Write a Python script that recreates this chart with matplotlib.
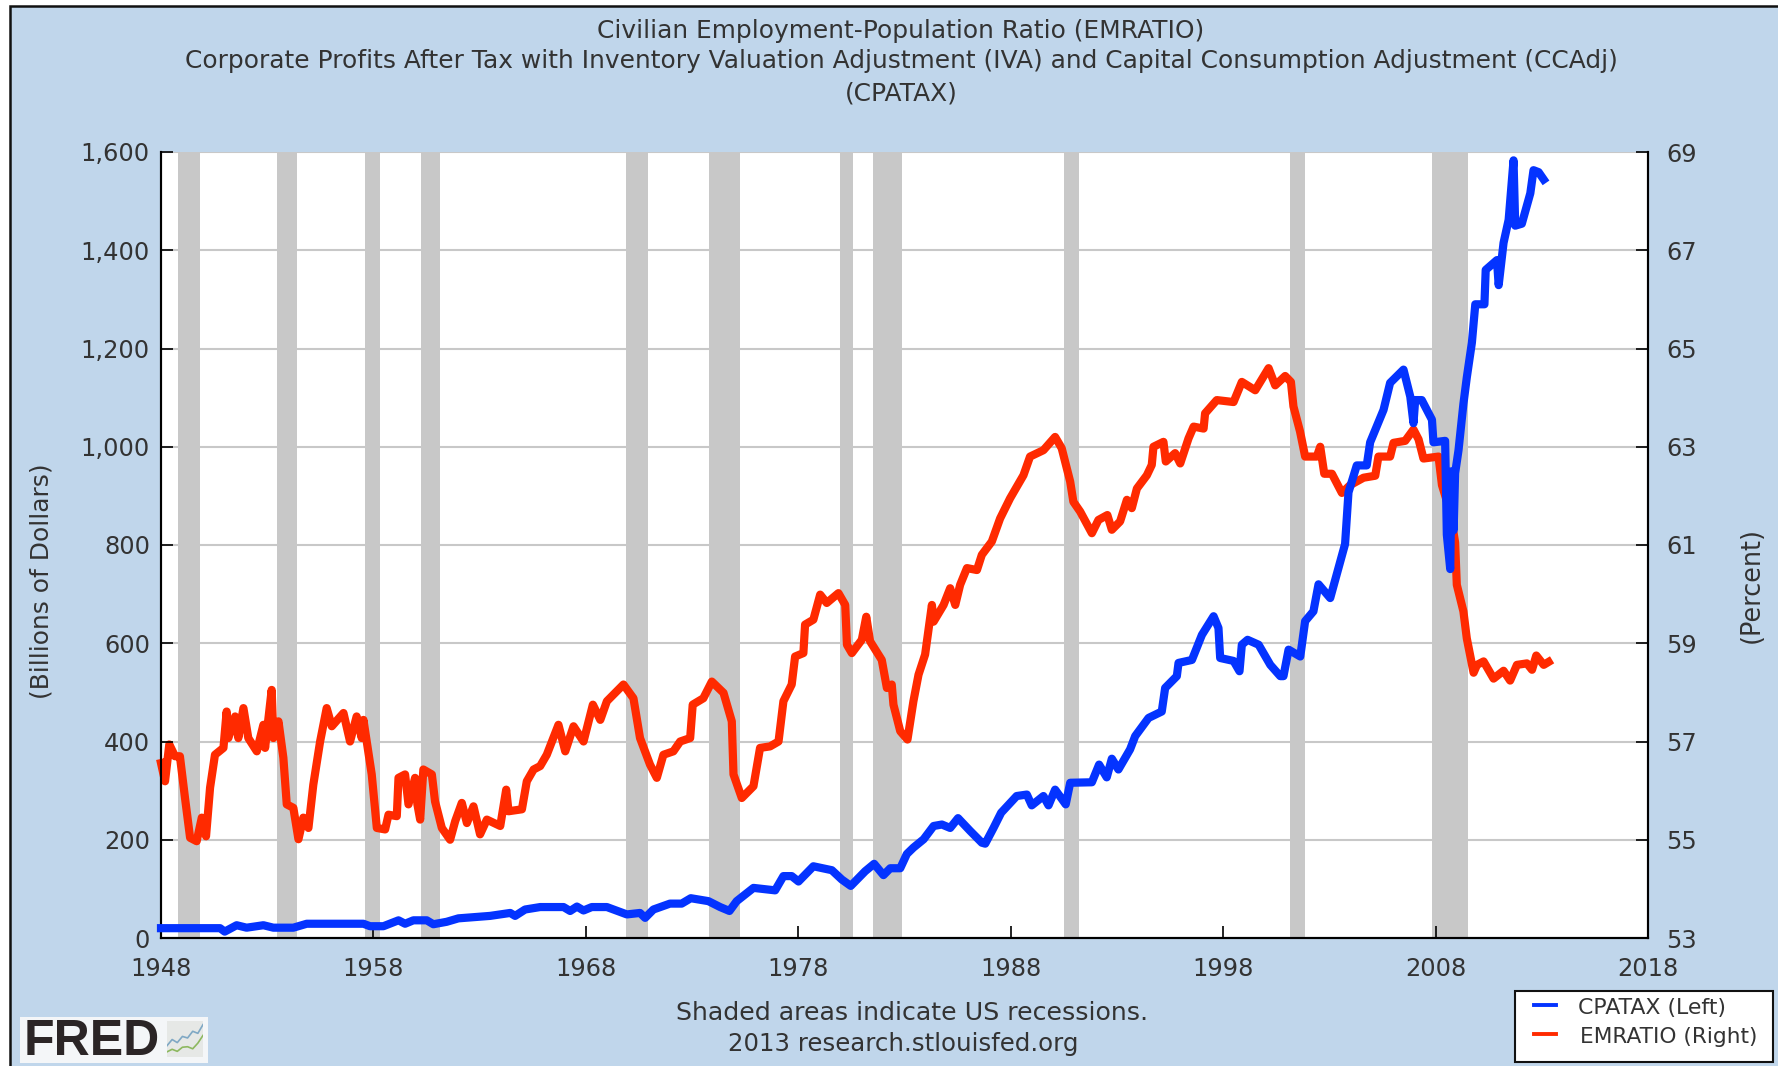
#!/usr/bin/python3

## FRED chart: employment-population ratio vs corporate profits after tax

import matplotlib
matplotlib.use('Agg')
import matplotlib.pyplot as plt
from matplotlib.patches import Rectangle
from matplotlib.lines import Line2D

# CPATAX, billions of dollars (left axis)
cpatax_year = [1948.0, 1950.78, 1951.0, 1951.56, 1952.03, 1952.82, 1953.29, 1954.23, 1954.86, 1957.53,
               1957.84, 1958.47, 1959.18, 1959.49, 1959.88, 1960.51, 1960.82, 1961.45, 1962.0, 1963.49,
               1964.44, 1964.67, 1965.14, 1965.85, 1966.95, 1967.26, 1967.58, 1967.89, 1968.28, 1968.99,
               1969.93, 1970.55, 1970.79, 1971.18, 1971.96, 1972.51, 1972.94, 1973.77, 1974.32, 1974.76,
               1975.10, 1975.89, 1976.91, 1977.30, 1977.69, 1978.01, 1978.71, 1979.58, 1980.05, 1980.47,
               1981.15, 1981.57, 1982.01, 1982.33, 1982.80, 1983.11, 1983.42, 1983.90, 1984.37, 1984.76,
               1985.15, 1985.52, 1986.09, 1986.64, 1986.80, 1987.19, 1987.55, 1988.28, 1988.76, 1988.99,
               1989.54, 1989.78, 1990.09, 1990.59, 1990.80, 1991.82, 1992.16, 1992.52, 1992.76, 1993.07,
               1993.62, 1993.86, 1994.49, 1995.11, 1995.27, 1995.82, 1995.90, 1996.53, 1997.0, 1997.55,
               1997.78, 1997.86, 1998.49, 1998.77, 1998.88, 1999.15, 1999.67, 2000.22, 2000.69, 2000.84,
               2001.08, 2001.63, 2001.86, 2002.25, 2002.49, 2003.04, 2003.51, 2003.74, 2003.90, 2004.29,
               2004.76, 2004.92, 2005.55, 2005.86, 2006.49, 2006.81, 2006.96, 2007.04, 2007.35, 2007.83,
               2007.90, 2008.45, 2008.53, 2008.69, 2008.75, 2008.85, 2008.92, 2009.08, 2009.31, 2009.47,
               2009.71, 2009.87, 2010.30, 2010.36, 2010.89, 2010.97, 2011.20, 2011.44, 2011.67, 2011.75,
               2012.06, 2012.46, 2012.61, 2012.85, 2013.09]
cpatax_value = [20, 20, 13, 26, 21, 26, 21, 21, 29, 29,
                24, 24, 36, 29, 36, 36, 28, 33, 40, 45,
                51, 45, 58, 63, 63, 55, 64, 56, 63, 63,
                48, 51, 41, 58, 70, 70, 81, 75, 63, 55,
                75, 102, 97, 126, 126, 115, 146, 138, 119, 106,
                136, 151, 128, 142, 142, 171, 184, 201, 228, 231,
                224, 244, 218, 194, 192, 224, 255, 289, 292, 270,
                289, 270, 302, 272, 316, 317, 353, 327, 365, 343,
                384, 411, 448, 461, 509, 533, 560, 566, 617, 655,
                631, 570, 564, 543, 597, 607, 597, 556, 533, 533,
                587, 573, 645, 665, 720, 692, 766, 802, 907, 962,
                962, 1009, 1075, 1130, 1157, 1102, 1048, 1095, 1095, 1055,
                1009, 1012, 821, 751, 950, 830, 946, 993, 1087, 1141,
                1212, 1290, 1290, 1360, 1380, 1329, 1415, 1462, 1583, 1450,
                1454, 1516, 1563, 1559, 1544]

# EMRATIO, percent (right axis)
emratio_year = [1948.0, 1948.19, 1948.39, 1948.66, 1948.89, 1949.13, 1949.37, 1949.68, 1949.92, 1950.12,
                1950.31, 1950.54, 1950.94, 1951.09, 1951.17, 1951.49, 1951.64, 1951.88, 1952.11, 1952.51,
                1952.82, 1952.90, 1953.21, 1953.29, 1953.53, 1953.76, 1953.92, 1954.23, 1954.47, 1954.70,
                1954.94, 1955.17, 1955.49, 1955.80, 1956.04, 1956.59, 1956.90, 1957.21, 1957.45, 1957.53,
                1957.92, 1958.16, 1958.55, 1958.71, 1959.10, 1959.18, 1959.49, 1959.65, 1959.96, 1960.07,
                1960.20, 1960.35, 1960.75, 1960.90, 1961.22, 1961.61, 1961.85, 1962.16, 1962.40, 1962.71,
                1963.02, 1963.34, 1963.97, 1964.25, 1964.36, 1964.99, 1965.22, 1965.54, 1965.85, 1966.16,
                1966.71, 1967.03, 1967.42, 1967.89, 1968.33, 1968.68, 1968.99, 1969.77, 1970.24, 1970.55,
                1971.02, 1971.34, 1971.65, 1972.12, 1972.44, 1972.91, 1973.03, 1973.53, 1973.93, 1974.48,
                1974.87, 1974.95, 1975.34, 1975.89, 1976.20, 1976.67, 1977.07, 1977.30, 1977.69, 1977.85,
                1978.24, 1978.32, 1978.71, 1979.03, 1979.34, 1979.89, 1980.21, 1980.29, 1980.52, 1980.99,
                1981.20, 1981.38, 1981.93, 1982.17, 1982.40, 1982.48, 1982.80, 1983.14, 1983.42, 1983.66,
                1983.97, 1984.29, 1984.37, 1984.84, 1985.15, 1985.39, 1985.62, 1985.94, 1986.41, 1986.64,
                1987.11, 1987.50, 1987.97, 1988.60, 1988.91, 1989.54, 1990.09, 1990.40, 1990.80, 1990.95,
                1991.27, 1991.82, 1992.13, 1992.55, 1992.76, 1993.15, 1993.47, 1993.70, 1993.94, 1994.41,
                1994.64, 1994.72, 1995.19, 1995.30, 1995.74, 1995.98, 1996.37, 1996.61, 1997.08, 1997.15,
                1997.70, 1998.49, 1998.88, 1999.51, 2000.14, 2000.45, 2000.92, 2001.19, 2001.31, 2001.62,
                2001.86, 2002.41, 2002.57, 2002.76, 2003.12, 2003.59, 2003.98, 2004.61, 2005.16, 2005.31,
                2005.86, 2006.02, 2006.57, 2006.96, 2007.20, 2007.43, 2008.14, 2008.30, 2008.69, 2008.92,
                2009.0, 2009.31, 2009.47, 2009.79, 2009.95, 2010.26, 2010.73, 2011.20, 2011.51, 2011.83,
                2012.30, 2012.54, 2012.74, 2013.09, 2013.32]
emratio_value = [56.56, 56.19, 56.94, 56.70, 56.70, 55.85, 55.04, 54.97, 55.45, 55.07,
                 56.06, 56.73, 56.87, 57.61, 57.07, 57.51, 57.07, 57.68, 57.07, 56.80,
                 57.34, 56.87, 58.05, 57.07, 57.41, 56.67, 55.72, 55.65, 55.01, 55.45,
                 55.24, 56.12, 57.0, 57.68, 57.31, 57.58, 57.0, 57.51, 57.07, 57.44,
                 56.33, 55.24, 55.21, 55.51, 55.48, 56.26, 56.33, 55.72, 56.26, 55.72,
                 55.41, 56.43, 56.33, 55.78, 55.24, 55.0, 55.38, 55.75, 55.34, 55.68,
                 55.11, 55.41, 55.28, 56.02, 55.58, 55.62, 56.19, 56.43, 56.50, 56.73,
                 57.34, 56.80, 57.31, 57.0, 57.75, 57.44, 57.82, 58.16, 57.88, 57.07,
                 56.53, 56.26, 56.73, 56.80, 57.0, 57.07, 57.75, 57.88, 58.22, 57.99,
                 57.41, 56.33, 55.85, 56.09, 56.87, 56.90, 57.0, 57.82, 58.16, 58.73,
                 58.80, 59.38, 59.48, 59.99, 59.82, 60.02, 59.78, 58.97, 58.80, 59.07,
                 59.54, 59.04, 58.66, 58.09, 58.16, 57.75, 57.21, 57.04, 57.82, 58.36,
                 58.77, 59.78, 59.44, 59.78, 60.12, 59.78, 60.19, 60.53, 60.49, 60.80,
                 61.07, 61.54, 61.95, 62.42, 62.80, 62.93, 63.20, 62.97, 62.29, 61.88,
                 61.68, 61.24, 61.51, 61.61, 61.31, 61.48, 61.92, 61.75, 62.15, 62.42,
                 62.63, 63.0, 63.10, 62.70, 62.87, 62.66, 63.17, 63.41, 63.37, 63.68,
                 63.95, 63.91, 64.32, 64.15, 64.60, 64.25, 64.44, 64.32, 63.82, 63.31,
                 62.80, 62.80, 63.0, 62.45, 62.45, 62.06, 62.22, 62.37, 62.41, 62.80,
                 62.80, 63.08, 63.12, 63.35, 63.15, 62.76, 62.80, 62.22, 61.67, 61.05,
                 60.19, 59.65, 59.10, 58.40, 58.56, 58.63, 58.28, 58.44, 58.24, 58.56,
                 58.59, 58.46, 58.75, 58.56, 58.62]

# recession start / end in decimal years
recession_start = [1948.8, 1953.47, 1957.6, 1960.25, 1969.9, 1973.8, 1979.97, 1981.5, 1990.5, 2001.15, 2007.85]
recession_end = [1949.85, 1954.4, 1958.3, 1961.12, 1970.92, 1975.25, 1980.58, 1982.87, 1991.22, 2001.87, 2009.55]

left_ticks = [0, 200, 400, 600, 800, 1000, 1200, 1400, 1600]
left_labels = ['0', '200', '400', '600', '800', '1,000', '1,200', '1,400', '1,600']
right_ticks = [53, 55, 57, 59, 61, 63, 65, 67, 69]
year_ticks = [1948, 1958, 1968, 1978, 1988, 1998, 2008, 2018]

title_lines = ['Civilian Employment-Population Ratio (EMRATIO)',
               'Corporate Profits After Tax with Inventory Valuation Adjustment (IVA) and Capital Consumption Adjustment (CCAdj)',
               '(CPATAX)']

# small trend lines in the logo icon
logo_x = [0, 1, 2, 3, 4, 5, 6, 7]
logo_top = [2.2, 3.4, 2.8, 4.0, 3.7, 5.0, 4.6, 6.3]
logo_low = [1.0, 1.5, 1.1, 1.9, 2.0, 1.6, 2.7, 4.2]

BG = '#C0D6EB'
BLUE = '#0433FF'
RED = '#FF2A00'
GREY = '#C8C8C8'
TXT = '#333333'
W, H = 1778.0, 1066.0

# helpers to go from pixels to figure fraction
def fx(x):
    return x / W

def fy(y):
    return 1 - y / H

fig = plt.figure(figsize=(17.78, 10.66), dpi=100, facecolor='white')

# panel with its black frame (cut off right and bottom)
fig.add_artist(Rectangle((fx(10), fy(1075)), fx(1790) - fx(10), fy(6) - fy(1075), transform=fig.transFigure,
                         facecolor=BG, edgecolor='#111111', linewidth=1.8, zorder=-1))

ax = fig.add_axes([fx(161), fy(938), fx(1648) - fx(161), fy(152) - fy(938)])
ax.set_xlim(1948, 2018)
ax.set_ylim(0, 1600)
ax.set_yticks(left_ticks)
ax.set_yticklabels(left_labels)
ax.set_xticks(year_ticks)
ax.tick_params(axis='y', direction='in', length=8.6, width=1.2, pad=8, labelsize=17.4, labelcolor=TXT)
ax.tick_params(axis='x', direction='in', length=8.6, width=1.2, pad=14, labelsize=17.4, labelcolor=TXT)

# right axis sits under the left one: white panel, grid, bands, red line
ax2 = ax.twinx()
ax2.set_ylim(53, 69)
ax2.set_yticks(right_ticks)
ax2.tick_params(axis='y', direction='in', length=8.6, width=1.2, pad=13, labelsize=17.4, labelcolor=TXT)
ax2.yaxis.grid(True, color=GREY, linewidth=1.5, zorder=0)
ax2.set_axisbelow(True)

for start, end in zip(recession_start, recession_end):
    ax2.axvspan(start, end, facecolor=GREY, edgecolor='none', zorder=1)

for a in [ax, ax2]:
    a.spines['top'].set_visible(False)
    for side in ['left', 'right', 'bottom']:
        a.spines[side].set_linewidth(1.5)

ax.set_zorder(2)
ax2.set_zorder(1)
ax.patch.set_visible(False)
ax2.patch.set_visible(True)
ax2.patch.set_facecolor('white')

ax2.plot(emratio_year, emratio_value, color=RED, linewidth=5.9, solid_joinstyle='round', zorder=3, clip_on=False)
ax.plot(cpatax_year, cpatax_value, color=BLUE, linewidth=5.9, solid_joinstyle='round', zorder=4, clip_on=False)

# titles
for text, y in zip(title_lines, [31, 61, 93]):
    fig.text(fx(901), fy(y), text, ha='center', va='center', fontsize=17.9, color=TXT)

fig.text(fx(42), fy(581), '(Billions of Dollars)', rotation=90, ha='center', va='center', fontsize=17.9, color=TXT)
fig.text(fx(1752), fy(585), '(Percent)', rotation=90, ha='center', va='center', fontsize=18.4, color=TXT)
fig.text(fx(912), fy(1013), 'Shaded areas indicate US recessions.', ha='center', va='center', fontsize=18.2, color=TXT)
fig.text(fx(903), fy(1044), '2013 research.stlouisfed.org', ha='center', va='center', fontsize=17.6, color=TXT)

# legend box
fig.add_artist(Rectangle((fx(1515), fy(1062)), fx(1773) - fx(1515), fy(991) - fy(1062), transform=fig.transFigure,
                         facecolor='white', edgecolor='#111111', linewidth=1.5))
fig.add_artist(Line2D([fx(1534), fx(1556)], [fy(1005), fy(1005)], color=BLUE, linewidth=2.8))
fig.add_artist(Line2D([fx(1534), fx(1556)], [fy(1034), fy(1034)], color=RED, linewidth=2.8))
fig.text(fx(1578), fy(1008), 'CPATAX (Left)', ha='left', va='center', fontsize=15.8, color=TXT)
fig.text(fx(1580), fy(1037), 'EMRATIO (Right)', ha='left', va='center', fontsize=15.6, color=TXT)

# FRED logo
fig.add_artist(Rectangle((fx(20), fy(1063)), fx(208) - fx(20), fy(1017) - fy(1063), transform=fig.transFigure,
                         facecolor='#F4F6F8', edgecolor='none'))
fig.text(fx(24), fy(1042), 'FRED', ha='left', va='center', fontsize=36, fontweight='bold',
         family='Liberation Sans', color='#2B2526')
icon = fig.add_axes([fx(167), fy(1057), fx(203) - fx(167), fy(1021) - fy(1057)], facecolor='#E6E8E6')
icon.set_zorder(5)
icon.plot(logo_x, logo_top, color='#7FA8C4', linewidth=1.2)
icon.plot(logo_x, logo_low, color='#8DB85F', linewidth=1.2)
icon.set_xlim(0, 7)
icon.set_ylim(0, 7)
icon.set_xticks([])
icon.set_yticks([])
for side in icon.spines.values():
    side.set_visible(False)

fig.savefig('out.png', dpi=100, facecolor=fig.get_facecolor())
